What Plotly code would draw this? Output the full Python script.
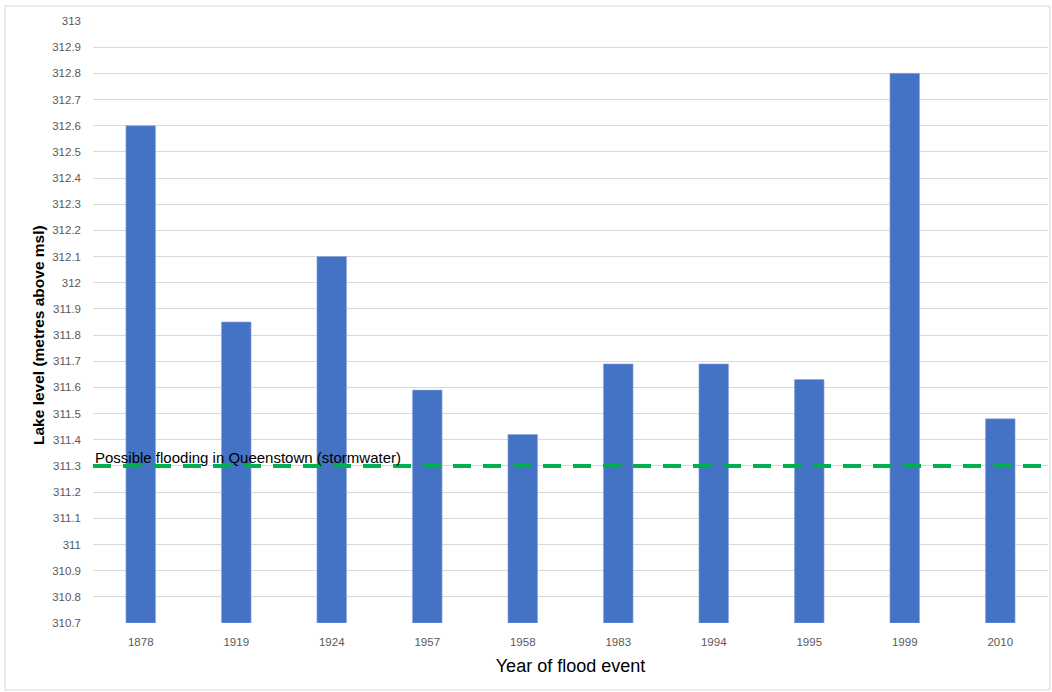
import plotly.graph_objects as go

years = ["1878", "1919", "1924", "1957", "1958", "1983", "1994", "1995", "1999", "2010"]
levels = [312.6, 311.85, 312.1, 311.59, 311.42, 311.69, 311.69, 311.63, 312.8, 311.48]
flood_level = 311.3
flood_label = "Possible flooding in Queenstown (stormwater)"
y_min, y_max = 310.7, 313.0
y_ticks = [round(310.7 + 0.1 * i, 1) for i in range(24)]

W, H = 1052, 692
L, R, T, B = 93, 4, 21, 69
pw, ph = W - L - R, H - T - B

fig = go.Figure()
fig.add_trace(go.Bar(
    x=years, y=[v - y_min for v in levels], base=y_min,
    marker=dict(color="#4472C4", line=dict(color="#8FAADC", width=0.6)),
    width=0.31, hoverinfo="x+y",
))
fig.add_shape(type="line", xref="paper", yref="y", x0=0, x1=1,
              y0=flood_level, y1=flood_level,
              line=dict(color="#00B050", width=4, dash="18px,12px"), layer="above")
fig.add_annotation(
    x=0, y=flood_level, xref="paper", yref="y", text=flood_label, showarrow=False,
    xanchor="left", yanchor="bottom", xshift=0, yshift=-2,
    font=dict(family="Liberation Sans, Arial, sans-serif", size=15, color="#000000"),
)
fig.add_annotation(
    x=(38 - L) / pw, y=1 - (335 - T) / ph, xref="paper", yref="paper",
    text="<b>Lake level (metres above msl)</b>", showarrow=False, textangle=-90,
    xanchor="center", yanchor="middle",
    font=dict(family="Liberation Sans, Arial, sans-serif", size=15.5, color="#000000"),
)
fig.add_shape(type="rect", xref="paper", yref="paper",
              x0=(5 - L) / pw, x1=(1050 - L) / pw,
              y0=1 - (690 - T) / ph, y1=1 - (6 - T) / ph,
              line=dict(color="#D9D9D9", width=1), fillcolor="rgba(0,0,0,0)", layer="below")

fig.update_layout(
    width=W, height=H, margin=dict(l=L, r=R, t=T, b=B, pad=0),
    paper_bgcolor="white", plot_bgcolor="white", showlegend=False,
    font=dict(family="Liberation Sans, Arial, sans-serif", color="#595959"),
    xaxis=dict(
        type="category", range=[-0.5, len(years) - 0.5], showgrid=False,
        showline=False, zeroline=False, ticks="", ticklabelstandoff=10,
        tickfont=dict(size=11.5, color="#595959"),
        title=dict(text="Year of flood event", standoff=12,
                   font=dict(size=18, color="#000000")),
    ),
    yaxis=dict(
        range=[y_min, y_max], tickvals=y_ticks, ticktext=[f"{v:g}" for v in y_ticks],
        showgrid=True, gridcolor="#D9D9D9", gridwidth=1, zeroline=False, showline=False,
        ticks="", ticklabelstandoff=11, tickfont=dict(size=11.5, color="#595959"),
    ),
)
fig.write_html("out.html")
